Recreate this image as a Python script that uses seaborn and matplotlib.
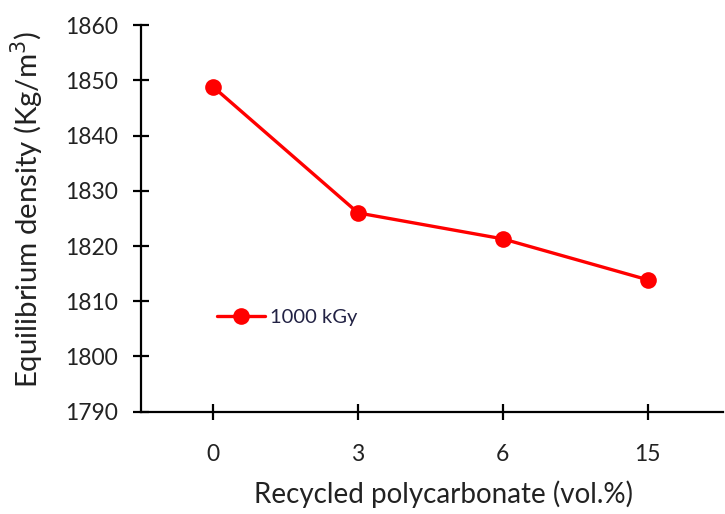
from matplotlib import pyplot as plt
import pandas as pd
import seaborn as sns

# data
pc_content = ["0", "3", "6", "15"]
density = [1848.8, 1826.0, 1821.3, 1813.9]
dose_label = "1000 kGy"

df = pd.DataFrame({"pc": pc_content, "density": density, "dose": dose_label})

sns.set_style("white")
plt.rcParams['font.family'] = ['Lato', 'DejaVu Sans']

fig = plt.figure(figsize=(7.25, 5.14), dpi=100)
ax = fig.add_axes([0.1945, 0.199, 0.8025, 0.752])

sns.lineplot(data=df, x="pc", y="density", hue="dose", palette=["#ff0000"],
             marker="o", markersize=12, markeredgewidth=0, linewidth=2.4,
             ax=ax)

ax.set_xlim(-0.5, 3.52)
ax.set_ylim(1790, 1860)
ax.set_yticks(range(1790, 1861, 10))

for side in ["top", "right"]:
    ax.spines[side].set_visible(False)
for side in ["left", "bottom"]:
    ax.spines[side].set_color("black")
    ax.spines[side].set_linewidth(1.6)

ax.tick_params(axis="both", direction="inout", length=11, width=1.6,
               colors="black", labelsize=16.5, labelcolor="#222222",
               bottom=True, left=True)
ax.tick_params(axis="x", pad=18)
ax.tick_params(axis="y", pad=11)

ax.set_xlabel("Recycled polycarbonate (vol.%)", fontsize=20, labelpad=11,
              color="#222222")
ax.set_ylabel("Equilibrium density (Kg/m$^3$)", fontsize=21.2, labelpad=14,
              color="#222222")
# labels sit slightly off the axes centre in the original
ax.xaxis.label.set_x(0.52)
ax.yaxis.label.set_y(0.523)

ax.legend(loc="center left", bbox_to_anchor=(0.13, 0.245), frameon=False,
          fontsize=14.5, borderpad=0, borderaxespad=0, handlelength=2.4,
          handletextpad=0.25, labelcolor="#222244")

fig.savefig("out.png", dpi=100)
